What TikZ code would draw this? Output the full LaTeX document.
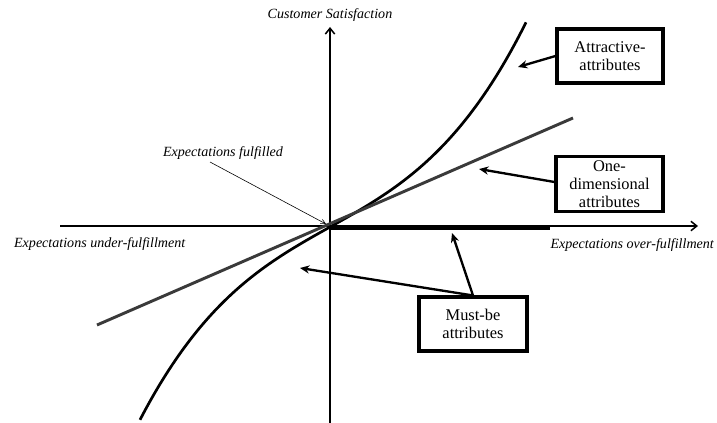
\documentclass[tikz,border=0pt]{standalone}
\usepackage{fontspec}
\setmainfont{Liberation Serif}
\usepackage{xcolor}
\usepackage{tikz}
\usetikzlibrary{arrows.meta,calc,positioning}
\definecolor{linegray}{HTML}{3A3A3A}
\tikzset{
  axisline/.style={black,line width=1.3pt,-{Straight Barb[length=5pt,width=8pt]}},
  attractcurve/.style={black,line width=2.3pt},
  onedimline/.style={linegray,line width=2.5pt},
  mustline/.style={black,line width=4pt},
  pointer/.style={black,line width=2pt,-{Stealth[length=8pt,width=7pt]}},
  thinpointer/.style={black,line width=0.5pt,-{Straight Barb[length=4pt,width=4pt]}},
  attrbox/.style={draw,line width=2.6pt,align=center,inner sep=2pt,font=\fontsize{14}{15.5}\selectfont},
  axislabel/.style={font=\fontsize{12}{14}\selectfont\itshape}
}

\begin{document}
\begin{tikzpicture}[x=0.03cm,y=-0.03cm]
  \useasboundingbox (0,0) rectangle (717,423);
  % axes
  \coordinate (O) at (330,227);
  \coordinate (xleft) at (60,226);
  \coordinate (xright) at (698,226);
  \coordinate (ybot) at (330,423);
  \coordinate (ytop) at (330,27);
  \draw[axisline] (xleft) -- (xright);
  \draw[axisline] (ybot) -- (ytop);
  \node[axislabel] (ylab) at (330,15) {Customer Satisfaction};
  \node[axislabel,anchor=west] (under) at (10,244) {Expectations under-fulfillment};
  \node[axislabel,anchor=east] (over) at (718,245) {Expectations over-fulfillment};
  % curves
  \draw[attractcurve] plot[domain=-190:196,samples=80,smooth]
    ({330+\x},{227-(0.56*\x+12.6*(\x/100)^3)});
  \coordinate (odstart) at (97,325);
  \coordinate (odend) at (573,118);
  \draw[onedimline] (odstart) -- (odend);
  \coordinate (muststart) at (330,227.5);
  \coordinate (mustend) at (550,227.5);
  \draw[mustline] (muststart) -- (mustend);
  % labels
  \node[attrbox,minimum width=106*0.03cm,minimum height=54*0.03cm] (attr) at (610,56) {Attractive-\\attributes};
  \node[attrbox,minimum width=107*0.03cm,minimum height=55*0.03cm,inner sep=0pt] (onedim) at (609.5,184) {One-\\dimensional\\attributes};
  \node[attrbox,minimum width=108*0.03cm,minimum height=54*0.03cm] (must) at (473,324) {Must-be\\attributes};
  \node[axislabel] (fulfilled) at (223,153) {Expectations fulfilled};
  % pointers
  \coordinate (attrtip) at (518,67);
  \coordinate (onedimtip) at (479,169);
  \coordinate (musttipA) at (452,233);
  \coordinate (musttipB) at (300,268);
  \draw[pointer] (attr.west |- 0,56) -- (attrtip);
  \draw[pointer] (onedim.west |- 0,182) -- (onedimtip);
  \draw[pointer] (must.north) -- (musttipA);
  \draw[pointer] (must.north) -- (musttipB);
  \draw[thinpointer] (210,162) -- ($(O)+(-4,-3)$);
\end{tikzpicture}
\end{document}
